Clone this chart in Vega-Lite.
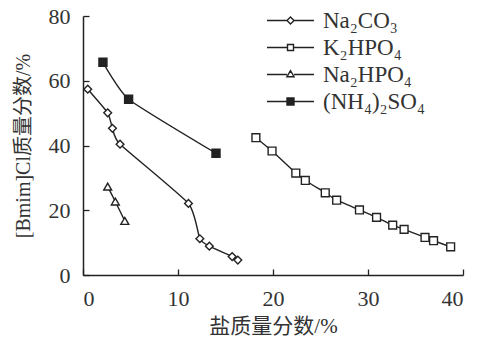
{
  "$schema": "https://vega.github.io/schema/vega-lite/v6.json",
  "width": 380,
  "height": 259,
  "autosize": {"type": "none"},
  "padding": {"left": 83, "top": 16, "right": 16, "bottom": 65},
  "background": "white",
  "config": {
    "view": {"stroke": null},
    "font": "Liberation Serif, Noto Sans CJK SC",
    "axis": {
      "domainColor": "#222",
      "domainWidth": 1.5,
      "tickColor": "#222",
      "tickWidth": 1.3,
      "tickSize": -6,
      "grid": false,
      "labelFont": "Liberation Serif",
      "labelFontSize": 22,
      "labelColor": "#333",
      "titleFont": "Liberation Serif, Noto Sans CJK SC",
      "titleFontSize": 20,
      "titleFontWeight": "normal",
      "titleColor": "#333"
    }
  },
  "data": {
    "values": [
      {"s": "Na₂CO₃", "x": 0.5, "y": 57.4},
      {"s": "Na₂CO₃", "x": 2.6, "y": 50.1},
      {"s": "Na₂CO₃", "x": 3.1, "y": 45.3},
      {"s": "Na₂CO₃", "x": 3.9, "y": 40.4},
      {"s": "Na₂CO₃", "x": 11.1, "y": 22.1},
      {"s": "Na₂CO₃", "x": 12.3, "y": 11.2},
      {"s": "Na₂CO₃", "x": 13.3, "y": 8.9},
      {"s": "Na₂CO₃", "x": 15.7, "y": 5.7},
      {"s": "Na₂CO₃", "x": 16.3, "y": 4.6},
      {"s": "K₂HPO₄", "x": 18.2, "y": 42.4},
      {"s": "K₂HPO₄", "x": 19.9, "y": 38.3},
      {"s": "K₂HPO₄", "x": 22.4, "y": 31.5},
      {"s": "K₂HPO₄", "x": 23.4, "y": 29.2},
      {"s": "K₂HPO₄", "x": 25.5, "y": 25.4},
      {"s": "K₂HPO₄", "x": 26.7, "y": 23.1},
      {"s": "K₂HPO₄", "x": 29.1, "y": 20.1},
      {"s": "K₂HPO₄", "x": 30.9, "y": 17.8},
      {"s": "K₂HPO₄", "x": 32.6, "y": 15.4},
      {"s": "K₂HPO₄", "x": 33.8, "y": 14.1},
      {"s": "K₂HPO₄", "x": 36.0, "y": 11.6},
      {"s": "K₂HPO₄", "x": 36.9, "y": 10.6},
      {"s": "K₂HPO₄", "x": 38.7, "y": 8.7},
      {"s": "Na₂HPO₄", "x": 2.6, "y": 27.3},
      {"s": "Na₂HPO₄", "x": 3.4, "y": 22.7},
      {"s": "Na₂HPO₄", "x": 4.4, "y": 16.7},
      {"s": "(NH₄)₂SO₄", "x": 2.1, "y": 65.7},
      {"s": "(NH₄)₂SO₄", "x": 4.8, "y": 54.3},
      {"s": "(NH₄)₂SO₄", "x": 14.0, "y": 37.6}
    ]
  },
  "encoding": {
    "x": {
      "field": "x", "type": "quantitative",
      "scale": {"domain": [0, 40], "nice": false},
      "axis": {"values": [0, 10, 20, 30, 40], "title": "盐质量分数/%", "titleFontSize": 21, "labelPadding": 19, "titlePadding": 6}
    },
    "y": {
      "field": "y", "type": "quantitative",
      "scale": {"domain": [0, 80], "nice": false},
      "axis": {"values": [0, 20, 40, 60, 80], "title": "[Bmim]Cl质量分数/%", "labelPadding": 19, "titlePadding": 15}
    }
  },
  "layer": [
    {
      "mark": {"type": "line", "color": "#222", "strokeWidth": 1.4, "interpolate": "cardinal", "tension": 0.5},
      "encoding": {"detail": {"field": "s"}}
    },
    {
      "mark": {"type": "point", "filled": false, "stroke": "#222", "strokeWidth": 1.4, "opacity": 1},
      "encoding": {
        "shape": {
          "field": "s", "type": "nominal",
          "scale": {"domain": ["Na₂CO₃", "K₂HPO₄", "Na₂HPO₄", "(NH₄)₂SO₄"], "range": ["diamond", "square", "triangle-up", "square"]},
          "legend": null
        },
        "fill": {
          "field": "s", "type": "nominal",
          "scale": {"domain": ["Na₂CO₃", "K₂HPO₄", "Na₂HPO₄", "(NH₄)₂SO₄"], "range": ["white", "white", "white", "#222"]},
          "legend": null
        },
        "size": {
          "field": "s", "type": "nominal",
          "scale": {"domain": ["Na₂CO₃", "K₂HPO₄", "Na₂HPO₄", "(NH₄)₂SO₄"], "range": [60, 64, 70, 80]},
          "legend": null
        }
      }
    },
    {
      "mark": {"type": "point", "filled": false, "strokeWidth": 1.4, "opacity": 0},
      "encoding": {
        "shape": {
          "field": "s", "type": "nominal",
          "scale": {"domain": ["Na₂CO₃", "K₂HPO₄", "Na₂HPO₄", "(NH₄)₂SO₄"],
            "range": [
              "M-2.35,0H-0.35M0.35,0H2.35M-0.35,0L0,-0.35L0.35,0L0,0.35Z",
              "M-2.35,0H-0.3M0.3,0H2.35M-0.3,-0.3H0.3V0.3H-0.3Z",
              "M-2.35,0H-0.35M0.35,0H2.35M-0.35,0.22L0,-0.38L0.35,0.22Z",
              "M-2.35,0H-0.35M0.35,0H2.35M-0.35,-0.35H0.35V0.35H-0.35Z"
            ]},
          "legend": {
            "title": null, "orient": "none", "legendX": 196, "legendY": -7,
            "symbolSize": 400, "symbolOpacity": 1, "symbolStrokeColor": "#222", "symbolStrokeWidth": 1.4,
            "labelFont": "Liberation Serif, DejaVu Serif", "labelFontSize": 23, "labelColor": "#333",
            "labelOffset": 21, "rowPadding": 3
          }
        },
        "fill": {
          "field": "s", "type": "nominal",
          "scale": {"domain": ["Na₂CO₃", "K₂HPO₄", "Na₂HPO₄", "(NH₄)₂SO₄"], "range": ["white", "white", "white", "#222"]},
          "legend": {
            "title": null, "orient": "none", "legendX": 196, "legendY": -7,
            "symbolSize": 400, "symbolOpacity": 1, "symbolStrokeColor": "#222", "symbolStrokeWidth": 1.4,
            "labelFont": "Liberation Serif, DejaVu Serif", "labelFontSize": 23, "labelColor": "#333",
            "labelOffset": 21, "rowPadding": 3
          }
        },
        "stroke": {
          "field": "s", "type": "nominal",
          "scale": {"domain": ["Na₂CO₃", "K₂HPO₄", "Na₂HPO₄", "(NH₄)₂SO₄"], "range": ["#222", "#222", "#222", "#222"]},
          "legend": {
            "title": null, "orient": "none", "legendX": 196, "legendY": -7,
            "symbolSize": 400, "symbolOpacity": 1, "symbolStrokeColor": "#222", "symbolStrokeWidth": 1.4,
            "labelFont": "Liberation Serif, DejaVu Serif", "labelFontSize": 23, "labelColor": "#333",
            "labelOffset": 21, "rowPadding": 3
          }
        }
      }
    }
  ],
  "resolve": {"scale": {"shape": "independent", "fill": "independent", "stroke": "independent"}, "legend": {"shape": "independent", "fill": "independent", "stroke": "independent"}}
}
